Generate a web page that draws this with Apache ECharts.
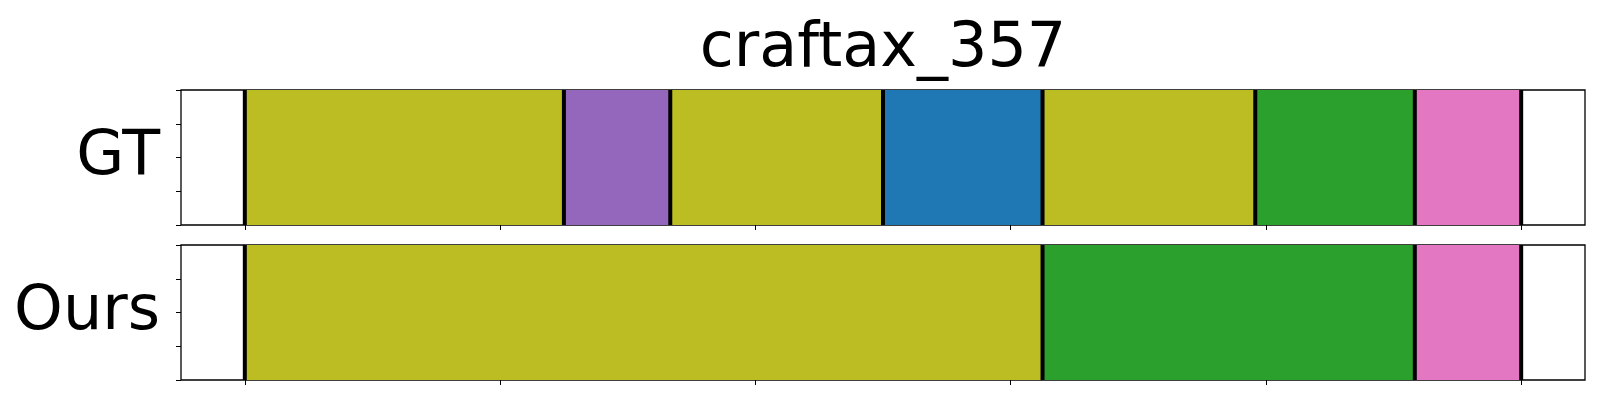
<!DOCTYPE html>
<html>
<head>
<meta charset="utf-8">
<style>html,body{margin:0;padding:0;background:#fff}#c{width:1600px;height:400px}</style>
<script src="https://cdn.jsdelivr.net/npm/echarts@6/dist/echarts.min.js"></script>
</head>
<body>
<div id="c"></div>
<script>
// ---- data ----
const title = 'craftax_357';
const rowNames = ['GT', 'Ours'];
const gtBounds = [0, 6, 8, 12, 15, 19, 22, 24];
const gtClasses = ['c8', 'c4', 'c8', 'c0', 'c8', 'c2', 'c6'];
const oursBounds = [0, 15, 22, 24];
const oursClasses = ['c8', 'c2', 'c6'];
const xTicks = [0, 4.8, 9.6, 14.4, 19.2, 24];
const yTicks = [0, 0.25, 0.5, 0.75, 1];

// ---- styles ----
const palette = {c0:'#1f77b4', c2:'#2ca02c', c4:'#9467bd', c6:'#e377c2', c8:'#bcbd22'};
const FONT = 'DejaVu Sans';
const grids = [
  {left:181, right:15, top:90, height:135},
  {left:181, right:15, top:245, height:135}
];

function segData(bounds, classes){
  const out = [];
  for (let i = 0; i < classes.length; i++) out.push([bounds[i], bounds[i+1], classes[i]]);
  return out;
}
const rows = [[gtBounds, gtClasses], [oursBounds, oursClasses]];

const xAxes = [], yAxes = [], series = [];
rows.forEach((r, i) => {
  xAxes.push({
    type:'value', gridIndex:i, min:-1.2, max:25.2,
    axisLine:{show:false, onZero:false}, splitLine:{show:false},
    axisTick:{show:true, length:5, inside:false, customValues:xTicks, lineStyle:{color:'#000', width:1}},
    axisLabel:{show:false, customValues:xTicks}
  });
  yAxes.push({
    type:'value', gridIndex:i, min:yTicks[0], max:yTicks[yTicks.length-1], interval:yTicks[1]-yTicks[0],
    axisLine:{show:false, onZero:false}, splitLine:{show:false},
    axisTick:{show:true, length:5, lineStyle:{color:'#000', width:1}},
    axisLabel:{show:false},
    name:rowNames[i], nameLocation:'middle', nameRotate:0, nameGap:21,
    nameTextStyle:{fontFamily:FONT, fontSize:62, color:'#000', align:'right', verticalAlign:'middle'}
  });
  series.push({
    type:'custom', xAxisIndex:i, yAxisIndex:i,
    data: segData(r[0], r[1]),
    renderItem:(params, api) => {
      const p0 = api.coord([api.value(0), 1]);
      const p1 = api.coord([api.value(1), 0]);
      return {type:'rect', shape:{x:p0[0], y:p0[1], width:p1[0]-p0[0], height:p1[1]-p0[1]},
        style:{fill: palette[r[1][params.dataIndex]]}};
    },
    z:2
  });
  series.push({
    type:'custom', xAxisIndex:i, yAxisIndex:i,
    data: r[0].map(v => [v]),
    renderItem:(params, api) => {
      const p0 = api.coord([api.value(0), 1]);
      const p1 = api.coord([api.value(0), 0]);
      return {type:'line', shape:{x1:p0[0], y1:p0[1], x2:p1[0], y2:p1[1]},
        style:{stroke:'#000', lineWidth:4}};
    },
    z:3
  });
});

const chart = echarts.init(document.getElementById('c'), null, {renderer:'canvas'});
chart.setOption({
  animation:false,
  backgroundColor:'#fff',
  title:{text:title, left:878, textAlign:'center', top:14,
    textStyle:{fontFamily:FONT, fontSize:62, fontWeight:'normal', color:'#000'}},
  grid: grids.map(g => Object.assign({show:true, borderColor:'#000', borderWidth:1.3}, g)),
  xAxis:xAxes, yAxis:yAxes, series:series
});
</script>
</body>
</html>
